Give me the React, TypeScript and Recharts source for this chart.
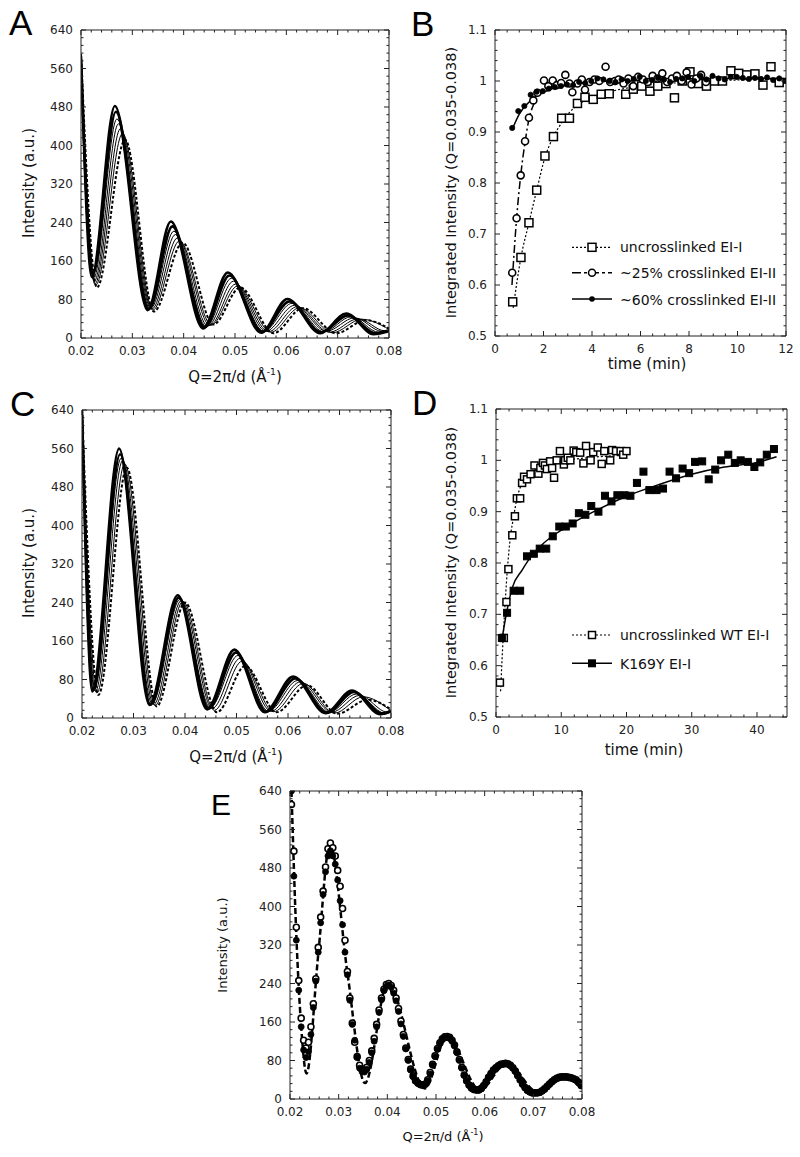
import React from 'react';
import { ComposedChart, Line, Scatter, XAxis, YAxis } from 'recharts';

type P = [number, number];
const pts = (a: P[]) => a.map(([x, y]) => ({ x, y }));

// ---------- tick labels ----------
const qTicks = [0.02, 0.03, 0.04, 0.05, 0.06, 0.07, 0.08];
const intensityTicks = [0, 80, 160, 240, 320, 400, 480, 560, 640];
const timeTicksB = [0, 2, 4, 6, 8, 10, 12];
const timeTicksD = [0, 10, 20, 30, 40];
const relTicks = [0.5, 0.6, 0.7, 0.8, 0.9, 1.0, 1.1];

const minorTicks = (a: number, b: number, s: number) => {
  const out: number[] = [];
  for (let i = 0; a + i * s <= b + s * 1e-6; i++) out.push(+(a + i * s).toFixed(6));
  return out;
};

// ---------- Panel A : SAXS curves (uncrosslinked) ----------
const aCurve1: P[] = [[0.02, 585], [0.0221, 127], [0.0266, 482], [0.033, 58], [0.0375, 242], [0.0438, 20], [0.0486, 136], [0.0551, 11], [0.0602, 81], [0.0666, 10], [0.0717, 51], [0.077, 8], [0.08, 14]];
const aCurve2: P[] = [[0.02, 575], [0.0223, 132], [0.0268, 470], [0.0332, 60], [0.0378, 232], [0.0441, 22], [0.0489, 130], [0.0553, 13], [0.0606, 76], [0.0668, 12], [0.072, 47], [0.0773, 10], [0.08, 16]];
const aCurve3: P[] = [[0.02, 570], [0.0224, 122], [0.027, 455], [0.0334, 62], [0.0381, 222], [0.0444, 24], [0.0493, 124], [0.0556, 14], [0.0611, 72], [0.0673, 13], [0.0726, 44], [0.078, 12], [0.08, 15]];
const aCurve4: P[] = [[0.02, 565], [0.0226, 118], [0.0273, 445], [0.0336, 62], [0.0384, 215], [0.0447, 25], [0.0497, 118], [0.056, 14], [0.0616, 68], [0.0678, 14], [0.0733, 42], [0.0786, 14], [0.08, 16]];
const aCurve5: P[] = [[0.02, 560], [0.0227, 112], [0.0277, 435], [0.0338, 60], [0.0388, 208], [0.0451, 26], [0.0501, 112], [0.0565, 13], [0.0621, 65], [0.0684, 12], [0.074, 40], [0.0792, 15], [0.08, 16]];
const aCurve6: P[] = [[0.02, 570], [0.0229, 110], [0.0281, 425], [0.034, 58], [0.0392, 202], [0.0454, 27], [0.0505, 108], [0.057, 12], [0.0626, 63], [0.069, 11], [0.0747, 39], [0.08, 18]];
const aDashed: P[] = [[0.02, 590], [0.0231, 105], [0.0286, 412], [0.0342, 55], [0.0398, 198], [0.0458, 28], [0.051, 105], [0.0575, 10], [0.0632, 62], [0.0697, 10], [0.0755, 37], [0.08, 20]];

// ---------- Panel C : SAXS curves ----------
const cCurve1: P[] = [[0.02, 640], [0.022, 55], [0.0272, 560], [0.0331, 27], [0.0386, 255], [0.0443, 18], [0.0496, 142], [0.0555, 12], [0.061, 86], [0.0673, 10], [0.0724, 57], [0.0779, 8], [0.08, 15]];
const cCurve2: P[] = [[0.02, 630], [0.0222, 58], [0.0274, 548], [0.0333, 28], [0.0388, 250], [0.0446, 20], [0.0499, 136], [0.0558, 13], [0.0614, 82], [0.0676, 11], [0.0728, 54], [0.0783, 9], [0.08, 14]];
const cCurve3: P[] = [[0.02, 625], [0.0224, 60], [0.0276, 540], [0.0336, 30], [0.039, 246], [0.0449, 22], [0.0503, 130], [0.0562, 14], [0.0619, 78], [0.068, 12], [0.0733, 50], [0.0788, 10], [0.08, 14]];
const cCurve4: P[] = [[0.02, 620], [0.0226, 55], [0.0279, 535], [0.0339, 28], [0.0393, 244], [0.0453, 20], [0.0507, 124], [0.0567, 14], [0.0624, 75], [0.0685, 12], [0.0739, 47], [0.0793, 12], [0.08, 14]];
const cCurve5: P[] = [[0.02, 625], [0.0229, 52], [0.0283, 528], [0.0342, 26], [0.0396, 242], [0.0457, 16], [0.0511, 118], [0.0572, 13], [0.063, 72], [0.069, 10], [0.0746, 44], [0.08, 15]];
const cDashed: P[] = [[0.02, 640], [0.0232, 48], [0.0287, 520], [0.0345, 24], [0.04, 240], [0.0462, 12], [0.0517, 108], [0.0578, 12], [0.0637, 68], [0.0696, 9], [0.0755, 38], [0.08, 18]];

// ---------- Panel B : kinetics ----------
const bUncross: P[] = [[0.73, 0.567], [1.07, 0.654], [1.4, 0.722], [1.72, 0.786], [2.06, 0.853], [2.41, 0.891], [2.75, 0.927], [3.07, 0.927], [3.4, 0.956], [3.71, 0.968], [4.05, 0.964], [4.38, 0.974], [4.71, 0.975], [5.39, 0.974], [5.7, 0.984], [6.05, 0.99], [6.39, 0.98], [6.71, 0.99], [7.05, 0.995], [7.4, 0.967], [7.72, 1.0], [8.04, 1.018], [8.38, 0.995], [8.72, 0.99], [9.05, 1.0], [9.38, 1.0], [9.73, 1.02], [10.05, 1.015], [10.38, 1.012], [10.72, 1.014], [11.05, 0.992], [11.38, 1.028], [11.72, 0.997]];
const bCross25: P[] = [[0.71, 0.624], [0.89, 0.731], [1.06, 0.815], [1.24, 0.882], [1.4, 0.928], [1.58, 0.962], [1.75, 0.977], [2.02, 1.001], [2.2, 0.99], [2.38, 1.001], [2.55, 0.992], [2.73, 0.996], [2.9, 1.012], [3.07, 0.995], [3.19, 0.978], [3.4, 0.995], [3.58, 1.003], [3.71, 0.983], [3.9, 0.998], [4.1, 1.003], [4.3, 1.0], [4.56, 1.028], [4.75, 0.998], [4.95, 1.0], [5.1, 1.003], [5.3, 0.995], [5.5, 1.005], [5.7, 0.99], [5.9, 1.008], [6.1, 1.003], [6.3, 0.998], [6.5, 1.01], [6.7, 1.005], [6.9, 1.015], [7.1, 0.998], [7.3, 1.005], [7.5, 1.01], [7.7, 1.0], [7.9, 1.017], [8.1, 0.993], [8.3, 1.005], [8.5, 1.012], [8.7, 0.998]];
const bCross60: P[] = [[0.71, 0.908], [0.96, 0.941], [1.21, 0.951], [1.47, 0.973], [1.72, 0.979], [1.97, 0.98], [2.22, 0.985], [2.47, 0.988], [2.72, 0.99], [2.97, 0.993], [3.22, 0.992], [3.47, 0.998], [3.72, 0.996], [3.97, 1.0], [4.22, 1.005], [4.47, 1.003], [4.72, 1.0], [4.97, 0.998], [5.22, 1.003], [5.47, 1.0], [5.72, 1.004], [5.97, 1.008], [6.22, 1.0], [6.47, 1.002], [6.72, 1.006], [6.97, 1.003], [7.22, 0.998], [7.47, 1.004], [7.72, 1.005], [7.97, 1.008], [8.22, 1.0], [8.47, 1.01], [8.72, 1.003], [8.97, 1.01], [9.22, 1.005], [9.47, 1.003], [9.72, 1.008], [9.97, 1.008], [10.22, 1.006], [10.47, 1.004], [10.72, 1.006], [10.97, 1.004], [11.22, 1.007], [11.47, 1.002], [11.72, 1.005], [11.97, 1.0]];
const bFitUncross: P[] = [[0.75, 0.555], [1.07, 0.654], [1.4, 0.722], [1.72, 0.786], [2.06, 0.85], [2.4, 0.89], [2.75, 0.918], [3.1, 0.94], [3.5, 0.955], [4, 0.968], [5, 0.982], [6, 0.99], [8, 0.998], [10, 1.002], [12, 1.005]];
const bFit25: P[] = [[0.7, 0.6], [0.89, 0.73], [1.06, 0.815], [1.24, 0.88], [1.4, 0.925], [1.6, 0.955], [1.8, 0.972], [2.2, 0.987], [3, 0.995], [5, 1.0], [8.7, 1.002]];
const bFit60: P[] = [[0.71, 0.905], [1, 0.935], [1.5, 0.963], [2, 0.978], [2.5, 0.987], [3, 0.992], [4, 0.998], [6, 1.002], [9, 1.005], [12, 1.005]];

// ---------- Panel D : kinetics ----------
const dWT: P[] = [[0.6, 0.567], [1.2, 0.654], [1.6, 0.724], [1.9, 0.788], [2.5, 0.854], [2.9, 0.891], [3.2, 0.926], [3.7, 0.926], [4.0, 0.956], [4.3, 0.968], [4.75, 0.963], [5.3, 0.973], [5.9, 0.99], [6.5, 0.974], [6.8, 0.985], [7.2, 0.995], [7.5, 0.99], [7.8, 0.983], [8.3, 0.998], [8.6, 0.985], [8.9, 0.966], [9.3, 1.0], [9.8, 1.018], [10.4, 0.992], [10.6, 1.0], [11.0, 1.005], [11.4, 1.0], [11.9, 1.019], [12.3, 1.016], [12.9, 1.015], [13.4, 0.994], [13.8, 1.028], [14.5, 1.0], [14.9, 1.016], [15.6, 1.025], [16.2, 0.993], [16.6, 1.018], [17.5, 1.0], [17.8, 1.02], [18.4, 1.018], [19.1, 1.018], [19.5, 1.011], [20.0, 1.018]];
const dK169Y: P[] = [[0.9, 0.654], [1.7, 0.703], [2.7, 0.746], [3.7, 0.746], [4.75, 0.813], [5.8, 0.818], [6.7, 0.828], [7.7, 0.828], [8.7, 0.852], [9.7, 0.871], [10.7, 0.871], [11.75, 0.877], [12.7, 0.897], [13.7, 0.894], [14.6, 0.911], [15.7, 0.9], [16.7, 0.931], [17.7, 0.92], [18.6, 0.932], [19.7, 0.932], [20.6, 0.931], [21.6, 0.956], [22.6, 0.978], [23.5, 0.942], [24.6, 0.942], [25.6, 0.945], [26.6, 0.978], [27.6, 0.965], [28.6, 0.984], [29.6, 0.975], [30.5, 0.997], [31.6, 0.998], [32.6, 0.963], [33.6, 0.982], [34.5, 1.0], [35.6, 1.011], [36.6, 0.995], [37.5, 1.0], [38.6, 0.997], [39.6, 0.987], [40.5, 0.996], [41.5, 1.011], [42.6, 1.022]];
const dFitWT: P[] = [[0.7, 0.55], [1.0, 0.63], [1.3, 0.7], [1.7, 0.78], [2.2, 0.85], [2.7, 0.89], [3.2, 0.925], [3.8, 0.95], [4.5, 0.965], [6, 0.98], [8, 0.99], [10, 0.998], [14, 1.005], [20, 1.01]];
const dFitK169Y: P[] = [[0.9, 0.65], [1.5, 0.695], [2.5, 0.752], [4, 0.786], [5, 0.806], [7, 0.835], [10, 0.864], [15, 0.9], [20, 0.93], [25, 0.953], [30, 0.973], [35, 0.987], [40, 0.996], [43, 1.007]];

// ---------- Panel E : data + fit ----------
const eQ = [0.0203, 0.0208, 0.0213, 0.0218, 0.0223, 0.0228, 0.0233, 0.0238, 0.0243, 0.0248, 0.0253, 0.0258, 0.0263, 0.0268, 0.0273, 0.0278, 0.0283, 0.0288, 0.0293, 0.0298, 0.0303, 0.0308, 0.0313, 0.0318, 0.0323, 0.0328, 0.0333, 0.0338, 0.0343, 0.0348, 0.0353, 0.0358, 0.0363, 0.0368, 0.0373, 0.0378, 0.0383, 0.0388, 0.0393, 0.0398, 0.0403, 0.0408, 0.0413, 0.0418, 0.0423, 0.0428, 0.0433, 0.0438, 0.0443, 0.0448, 0.0453, 0.0458, 0.0463, 0.0468, 0.0473, 0.0478, 0.0483, 0.0488, 0.0493, 0.0498, 0.0503, 0.0508, 0.0513, 0.0518, 0.0523, 0.0528, 0.0533, 0.0538, 0.0543, 0.0548, 0.0553, 0.0558, 0.0563, 0.0568, 0.0573, 0.0578, 0.0583, 0.0588, 0.0593, 0.0598, 0.0603, 0.0608, 0.0613, 0.0618, 0.0623, 0.0628, 0.0633, 0.0638, 0.0643, 0.0648, 0.0653, 0.0658, 0.0663, 0.0668, 0.0673, 0.0678, 0.0683, 0.0688, 0.0693, 0.0698, 0.0703, 0.0708, 0.0713, 0.0718, 0.0723, 0.0728, 0.0733, 0.0738, 0.0743, 0.0748, 0.0753, 0.0758, 0.0763, 0.0768, 0.0773, 0.0778, 0.0783, 0.0788, 0.0793, 0.0798];
const eOpen = [612, 515, 357, 246, 168, 122, 106, 118, 150, 198, 250, 315, 378, 432, 482, 520, 532, 522, 505, 475, 442, 396, 330, 265, 210, 158, 118, 88, 70, 62, 60, 66, 80, 100, 126, 155, 185, 210, 228, 238, 240, 236, 226, 210, 188, 162, 134, 106, 82, 62, 48, 38, 33, 30, 29, 31, 40, 55, 72, 90, 105, 117, 125, 129, 130, 128, 122, 112, 98, 82, 66, 50, 38, 29, 23, 20, 19, 19, 22, 28, 36, 45, 53, 60, 65, 69, 72, 73, 74, 73, 70, 65, 58, 49, 40, 31, 24, 18, 15, 13, 13, 13, 14, 17, 21, 26, 31, 36, 40, 43, 45, 46, 46, 46, 45, 44, 42, 40, 35, 29];
const eFilled = [640, 463, 330, 226, 150, 102, 86, 98, 134, 190, 245, 305, 366, 425, 472, 505, 516, 505, 488, 455, 412, 362, 305, 258, 205, 155, 122, 86, 64, 57, 56, 62, 76, 96, 120, 150, 180, 206, 225, 234, 237, 232, 220, 204, 182, 156, 130, 104, 80, 60, 46, 37, 32, 29, 28, 30, 38, 52, 70, 88, 103, 115, 123, 127, 128, 126, 120, 110, 96, 80, 64, 49, 37, 28, 22, 19, 18, 18, 21, 27, 35, 44, 52, 59, 64, 68, 71, 72, 73, 72, 69, 64, 57, 48, 39, 30, 23, 17, 14, 12, 12, 12, 13, 16, 20, 25, 30, 35, 39, 42, 44, 45, 45, 45, 44, 43, 41, 38, 33, 27];
const eFit: P[] = [[0.0203, 640], [0.0213, 340], [0.0223, 150], [0.0234, 53], [0.0258, 300], [0.0282, 531], [0.0318, 262], [0.0354, 33], [0.0401, 242], [0.0477, 22], [0.0523, 131], [0.059, 19], [0.0645, 74], [0.071, 14], [0.0762, 49], [0.08, 29]];

// ---------- drawing helpers ----------
const FONT = '"DejaVu Sans", Verdana, sans-serif';
const AX = '#222';

function mkTick(side: 'bottom' | 'top' | 'left' | 'right', majors: number[], fmt?: (v: number) => string) {
  return (props: any) => {
    const { x, y, payload } = props;
    const v = Number(payload.value);
    const major = majors.some((m) => Math.abs(m - v) < 1e-7);
    const len = major ? 5 : 2.5;
    let l: any = null;
    let t: any = null;
    const ts = { fontFamily: FONT, fontSize: 12, fill: '#222' } as any;
    if (side === 'bottom') {
      l = <line x1={x} x2={x} y1={y} y2={y - len} stroke={AX} strokeWidth={1} />;
      if (major && fmt) t = <text x={x} y={y + 17} textAnchor="middle" style={ts}>{fmt(v)}</text>;
    } else if (side === 'top') {
      l = <line x1={x} x2={x} y1={y} y2={y + len} stroke={AX} strokeWidth={1} />;
    } else if (side === 'left') {
      l = <line x1={x} x2={x + len} y1={y} y2={y} stroke={AX} strokeWidth={1} />;
      if (major && fmt) t = <text x={x - 8} y={y + 4} textAnchor="end" style={ts}>{fmt(v)}</text>;
    } else {
      l = <line x1={x} x2={x - len} y1={y} y2={y} stroke={AX} strokeWidth={1} />;
    }
    return <g>{l}{t}</g>;
  };
}

interface PanelProps {
  pl: number; pt: number; pw: number; ph: number;
  xd: [number, number]; yd: [number, number];
  xMaj: number[]; xMin: number[]; yMaj: number[]; yMin: number[];
  xf: (v: number) => string; yf: (v: number) => string;
  children?: React.ReactNode;
}

function Panel({ pl, pt, pw, ph, xd, yd, xMaj, xMin, yMaj, yMin, xf, yf, children }: PanelProps) {
  const W = pw + 90;
  const H = ph + 55;
  const axisLine = { stroke: AX, strokeWidth: 1 };
  return (
    <div style={{ position: 'absolute', left: pl - 60, top: pt - 10, width: W, height: H }}>
      <ComposedChart width={W} height={H} margin={{ top: 10, right: 30, bottom: 0, left: 0 }}>
        <XAxis dataKey="x" type="number" domain={xd} allowDataOverflow ticks={xMin} interval={0}
          tickSize={0} tickMargin={0} tickLine={false} axisLine={axisLine} height={45} tick={mkTick('bottom', xMaj, xf)} />
        <XAxis xAxisId="t" orientation="top" mirror dataKey="x" type="number" domain={xd} allowDataOverflow ticks={xMin} interval={0}
          tickSize={0} tickMargin={0} tickLine={false} axisLine={axisLine} tick={mkTick('top', xMaj)} />
        <YAxis dataKey="y" type="number" domain={yd} allowDataOverflow ticks={yMin} interval={0}
          tickSize={0} tickMargin={0} tickLine={false} axisLine={axisLine} width={60} tick={mkTick('left', yMaj, yf)} />
        <YAxis yAxisId="r" orientation="right" mirror dataKey="y" type="number" domain={yd} allowDataOverflow ticks={yMin} interval={0}
          tickSize={0} tickMargin={0} tickLine={false} axisLine={axisLine} tick={mkTick('right', yMaj)} />
        {children}
      </ComposedChart>
    </div>
  );
}

const line = (key: string, d: P[], w: number, dash?: string) => (
  <Line key={key} data={pts(d)} dataKey="y" type="monotone" stroke="#000" strokeWidth={w}
    strokeDasharray={dash} dot={false} activeDot={false} isAnimationActive={false} />
);

const openSquare = (s: number) => (p: any) => (
  <rect x={p.cx - s / 2} y={p.cy - s / 2} width={s} height={s} fill="#fff" stroke="#000" strokeWidth={1.5} />
);
const filledSquare = (s: number) => (p: any) => (
  <rect x={p.cx - s / 2} y={p.cy - s / 2} width={s} height={s} fill="#000" stroke="#000" strokeWidth={1} />
);
const openCircle = (r: number) => (p: any) => (
  <circle cx={p.cx} cy={p.cy} r={r} fill="#fff" stroke="#000" strokeWidth={1.6} />
);
const filledCircle = (r: number) => (p: any) => (
  <circle cx={p.cx} cy={p.cy} r={r} fill="#000" stroke="#000" strokeWidth={0.8} />
);

const fmtQ = (v: number) => v.toFixed(2);
const fmtInt = (v: number) => String(v);
const fmtRel = (v: number) => String(Math.round(v * 10) / 10);
const fmtT = (v: number) => String(v);

const qMinor = minorTicks(0.02, 0.08, 0.002);
const iMinor = minorTicks(0, 640, 16);
const relMinor = minorTicks(0.5, 1.1, 0.02);
const tMinorB = minorTicks(0, 12, 0.5);
const tMinorD = minorTicks(0, 44, 2);

export default function App() {
  const eOpenPts = eQ.map((q, i) => ({ x: q, y: eOpen[i] }));
  const eFilledPts = eQ.map((q, i) => ({ x: q, y: eFilled[i] }));
  const title = { fontFamily: FONT, fill: '#111' } as any;
  const letter = { fontFamily: '"Liberation Sans", Arial, Helvetica, sans-serif', fill: '#000' } as any;
  const qLabel = (cx: number, by: number, fs: number) => (
    <text x={cx} y={by} textAnchor="middle" style={{ ...title, fontSize: fs }}>
      Q=2π/d (Å<tspan dy={-fs * 0.45} fontSize={fs * 0.62}>-1</tspan><tspan dy={fs * 0.45}>)</tspan>
    </text>
  );
  const yLabel = (x: number, y: number, fs: number, s: string) => (
    <text transform={`translate(${x},${y}) rotate(-90)`} textAnchor="middle" style={{ ...title, fontSize: fs }}>{s}</text>
  );
  const legText = { fontFamily: FONT, fontSize: 14, fill: '#111' } as any;

  return (
    <div style={{ position: 'absolute', left: 0, top: 0, width: 800, height: 1157, background: '#fff', overflow: 'hidden' }}>
      {/* A */}
      <Panel pl={81} pt={30} pw={308} ph={308} xd={[0.02, 0.08]} yd={[0, 640]} xMaj={qTicks} xMin={qMinor}
        yMaj={intensityTicks} yMin={iMinor} xf={fmtQ} yf={fmtInt}>
        {[
          line('a6', aCurve6, 1),
          line('a5', aCurve5, 1),
          line('a4', aCurve4, 1),
          line('a3', aCurve3, 1),
          line('ad', aDashed, 2, '3 2'),
          line('a2', aCurve2, 2.6),
          line('a1', aCurve1, 2.6),
        ]}
      </Panel>
      {/* B */}
      <Panel pl={495} pt={30} pw={291} ph={306} xd={[0, 12]} yd={[0.5, 1.1]} xMaj={timeTicksB} xMin={tMinorB}
        yMaj={relTicks} yMin={relMinor} xf={fmtT} yf={fmtRel}>
        {[
          line('bf1', bFitUncross, 1.2, '2 2'),
          line('bf2', bFit25, 1.5, '8 3 2 3'),
          line('bf3', bFit60, 1.5),
          <Scatter key="bs1" data={pts(bUncross)} shape={openSquare(8)} isAnimationActive={false} />,
          <Scatter key="bs2" data={pts(bCross25)} shape={openCircle(3.5)} isAnimationActive={false} />,
          <Scatter key="bs3" data={pts(bCross60)} shape={filledCircle(2.6)} isAnimationActive={false} />,
        ]}
      </Panel>
      {/* C */}
      <Panel pl={82} pt={410} pw={309} ph={308} xd={[0.02, 0.08]} yd={[0, 640]} xMaj={qTicks} xMin={qMinor}
        yMaj={intensityTicks} yMin={iMinor} xf={fmtQ} yf={fmtInt}>
        {[
          line('c5', cCurve5, 1),
          line('c4', cCurve4, 1),
          line('c3', cCurve3, 1),
          line('cd', cDashed, 2, '3 2'),
          line('c2', cCurve2, 2.6),
          line('c1', cCurve1, 2.6),
        ]}
      </Panel>
      {/* D */}
      <Panel pl={496} pt={409} pw={291} ph={308} xd={[0, 44.6]} yd={[0.5, 1.1]} xMaj={timeTicksD} xMin={tMinorD}
        yMaj={relTicks} yMin={relMinor} xf={fmtT} yf={fmtRel}>
        {[
          line('df1', dFitWT, 1.2, '2 2'),
          line('df2', dFitK169Y, 1.5),
          <Scatter key="ds1" data={pts(dWT)} shape={openSquare(7)} isAnimationActive={false} />,
          <Scatter key="ds2" data={pts(dK169Y)} shape={filledSquare(7)} isAnimationActive={false} />,
        ]}
      </Panel>
      {/* E */}
      <Panel pl={290} pt={791} pw={292} ph={308} xd={[0.02, 0.08]} yd={[0, 640]} xMaj={qTicks} xMin={qMinor}
        yMaj={intensityTicks} yMin={iMinor} xf={fmtQ} yf={fmtInt}>
        {[
          line('ef', eFit, 2.5, '6 3'),
          <Scatter key="es1" data={eOpenPts} shape={openCircle(3)} isAnimationActive={false} />,
          <Scatter key="es2" data={eFilledPts} shape={filledCircle(3)} isAnimationActive={false} />,
        ]}
      </Panel>

      <svg width={800} height={1157} style={{ position: 'absolute', left: 0, top: 0, pointerEvents: 'none' }}>
        <text x={9} y={35} style={{ ...letter, fontSize: 35 }}>A</text>
        <text x={411} y={36} style={{ ...letter, fontSize: 35 }}>B</text>
        <text x={10} y={416} style={{ ...letter, fontSize: 35 }}>C</text>
        <text x={412} y={415} style={{ ...letter, fontSize: 35 }}>D</text>
        <text x={211} y={815} style={{ ...letter, fontSize: 30 }}>E</text>

        {yLabel(33.5, 183, 15, 'Intensity (a.u.)')}
        {yLabel(456, 182.5, 14.5, 'Integrated Intensity (Q=0.035-0.038)')}
        {yLabel(33.5, 563, 15, 'Intensity (a.u.)')}
        {yLabel(456, 562.5, 14.5, 'Integrated Intensity (Q=0.035-0.038)')}
        {yLabel(227, 945, 13, 'Intensity (a.u.)')}

        {qLabel(235, 382, 15)}
        {qLabel(236, 762, 15)}
        {qLabel(443, 1141, 13)}
        <text x={647} y={369} textAnchor="middle" style={{ ...title, fontSize: 15 }}>time (min)</text>
        <text x={644} y={755} textAnchor="middle" style={{ ...title, fontSize: 15 }}>time (min)</text>

        {/* Legend B */}
        <line x1={572} x2={612} y1={247.3} y2={247.3} stroke="#000" strokeWidth={1.2} strokeDasharray="2 2" />
        <rect x={588} y={243.3} width={8} height={8} fill="#fff" stroke="#000" strokeWidth={1.5} />
        <text x={620} y={252} style={legText}>uncrosslinked EI-I</text>
        <line x1={572} x2={612} y1={272.7} y2={272.7} stroke="#000" strokeWidth={1.5} strokeDasharray="9 3 3 3" />
        <circle cx={592} cy={272.7} r={3.5} fill="#fff" stroke="#000" strokeWidth={1.5} />
        <text x={620} y={278} style={legText}>~25% crosslinked EI-II</text>
        <line x1={572} x2={612} y1={299} y2={299} stroke="#000" strokeWidth={1.5} />
        <circle cx={592} cy={299} r={2.8} fill="#000" />
        <text x={620} y={304.5} style={legText}>~60% crosslinked EI-II</text>

        {/* Legend D */}
        <line x1={572} x2={612} y1={635} y2={635} stroke="#000" strokeWidth={1.2} strokeDasharray="2 2" />
        <rect x={588.5} y={631.5} width={7} height={7} fill="#fff" stroke="#000" strokeWidth={1.5} />
        <text x={620} y={640} style={legText}>uncrosslinked WT EI-I</text>
        <line x1={572} x2={612} y1={663.3} y2={663.3} stroke="#000" strokeWidth={1.5} />
        <rect x={588} y={659.3} width={8} height={8} fill="#000" />
        <text x={620} y={668.5} style={legText}>K169Y EI-I</text>
      </svg>
    </div>
  );
}
